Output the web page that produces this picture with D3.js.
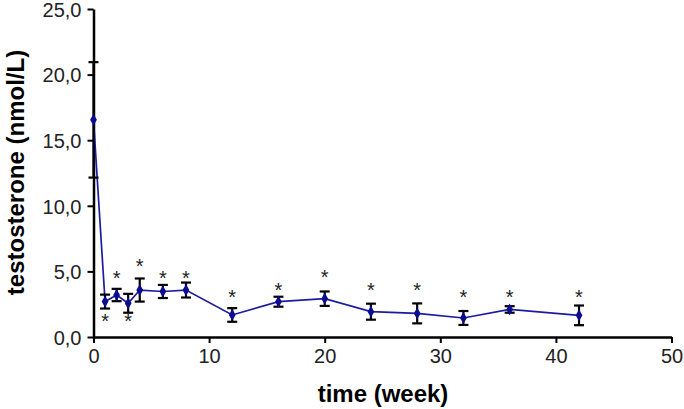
<!DOCTYPE html>
<html>
<head>
<meta charset="utf-8">
<script src="https://cdn.jsdelivr.net/npm/d3@7"></script>
<style>
  html, body { margin: 0; padding: 0; background: #fff; }
  svg { display: block; }
  text { font-family: Arial, "Liberation Sans", sans-serif; }
</style>
</head>
<body>
<svg id="chart" width="684" height="409"></svg>
<script>
// ---- data ----
const weeks = [0, 1, 2, 3, 4, 6, 8, 12, 16, 20, 24, 28, 32, 36, 42];
const testosterone = [16.55, 2.7, 3.2, 2.57, 3.58, 3.47, 3.58, 1.68, 2.69, 2.92, 1.93, 1.8, 1.45, 2.1, 1.65];
const sem = [4.4, 0.53, 0.47, 0.72, 0.88, 0.5, 0.57, 0.52, 0.38, 0.55, 0.61, 0.76, 0.53, 0.25, 0.75];
// significance asterisk level (in nmol/L units); null = none
const starLevel = [null, 1.3, 4.6, 1.35, 5.5, 4.6, 4.6, 3.2, 3.7, 4.65, 3.73, 3.71, 3.2, 3.2, 3.2];
const xTicks = [0, 10, 20, 30, 40, 50];
const yTicks = [0, 5, 10, 15, 20, 25];
const yTickLabels = ["0,0", "5,0", "10,0", "15,0", "20,0", "25,0"];

const svg = d3.select("#chart");
const x = d3.scaleLinear().domain([0, 50]).range([93.5, 671.5]);
const y = d3.scaleLinear().domain([0, 25]).range([337, 9]);

const points = weeks.map((w, i) => ({ w, v: testosterone[i], e: sem[i], s: starLevel[i] }));

// axes
const xAxis = d3.axisBottom(x).tickValues(xTicks).tickFormat(d3.format("d")).tickSize(6).tickSizeOuter(0).tickPadding(4);
const gx = svg.append("g").attr("transform", `translate(0,${y(0)})`).call(xAxis);
const yAxis = d3.axisLeft(y).tickValues(yTicks).tickFormat((d, i) => yTickLabels[i]).tickSize(6).tickSizeOuter(0).tickPadding(6);
const gy = svg.append("g").attr("transform", `translate(${x(0)},0)`).call(yAxis);

[gx, gy].forEach(g => {
  g.select(".domain").attr("stroke", "#000").attr("stroke-width", 2.5);
  g.selectAll(".tick line").attr("stroke", "#000").attr("stroke-width", 2);
  g.selectAll(".tick text").attr("fill", "#222").style("font-size", "20px").style("font-family", "Arial, 'Liberation Sans', sans-serif");
});
gx.selectAll(".tick text").attr("dy", "0.78em");
gy.selectAll(".tick text").attr("dy", "0.36em");

// axis titles
svg.append("text")
  .attr("x", 383).attr("y", 402)
  .attr("text-anchor", "middle")
  .style("font-size", "24px").style("font-weight", "bold")
  .attr("fill", "#000")
  .text("time (week)");

svg.append("text")
  .attr("transform", "translate(24,172.5) rotate(-90)")
  .attr("text-anchor", "middle")
  .style("font-size", "24px").style("font-weight", "bold")
  .attr("fill", "#000")
  .text("testosterone (nmol/L)");

// line
svg.append("path")
  .datum(points)
  .attr("fill", "none")
  .attr("stroke", "#1c1ca0")
  .attr("stroke-width", 1.7)
  .attr("d", d3.line().x(d => x(d.w)).y(d => y(d.v)));

// error bars
const eb = svg.append("g").attr("stroke", "#000").attr("stroke-width", 2.2);
points.forEach(d => {
  const cx = x(d.w);
  eb.append("line").attr("x1", cx).attr("x2", cx).attr("y1", y(d.v - d.e)).attr("y2", y(d.v + d.e));
  eb.append("line").attr("x1", cx - 5).attr("x2", cx + 5).attr("y1", y(d.v + d.e)).attr("y2", y(d.v + d.e));
  eb.append("line").attr("x1", cx - 5).attr("x2", cx + 5).attr("y1", y(d.v - d.e)).attr("y2", y(d.v - d.e));
});

// markers (diamonds)
svg.append("g").selectAll("path")
  .data(points)
  .join("path")
  .attr("transform", d => `translate(${x(d.w)},${y(d.v)})`)
  .attr("d", d3.symbol(d3.symbolDiamond, 40))
  .attr("fill", "#0c0c90");

// asterisks
svg.append("g").selectAll("text")
  .data(points.filter(d => d.s !== null))
  .join("text")
  .attr("x", d => x(d.w))
  .attr("y", d => y(d.s) + 8.5)
  .attr("text-anchor", "middle")
  .style("font-size", "20px")
  .attr("fill", "#222")
  .text("*");
</script>
</body>
</html>
